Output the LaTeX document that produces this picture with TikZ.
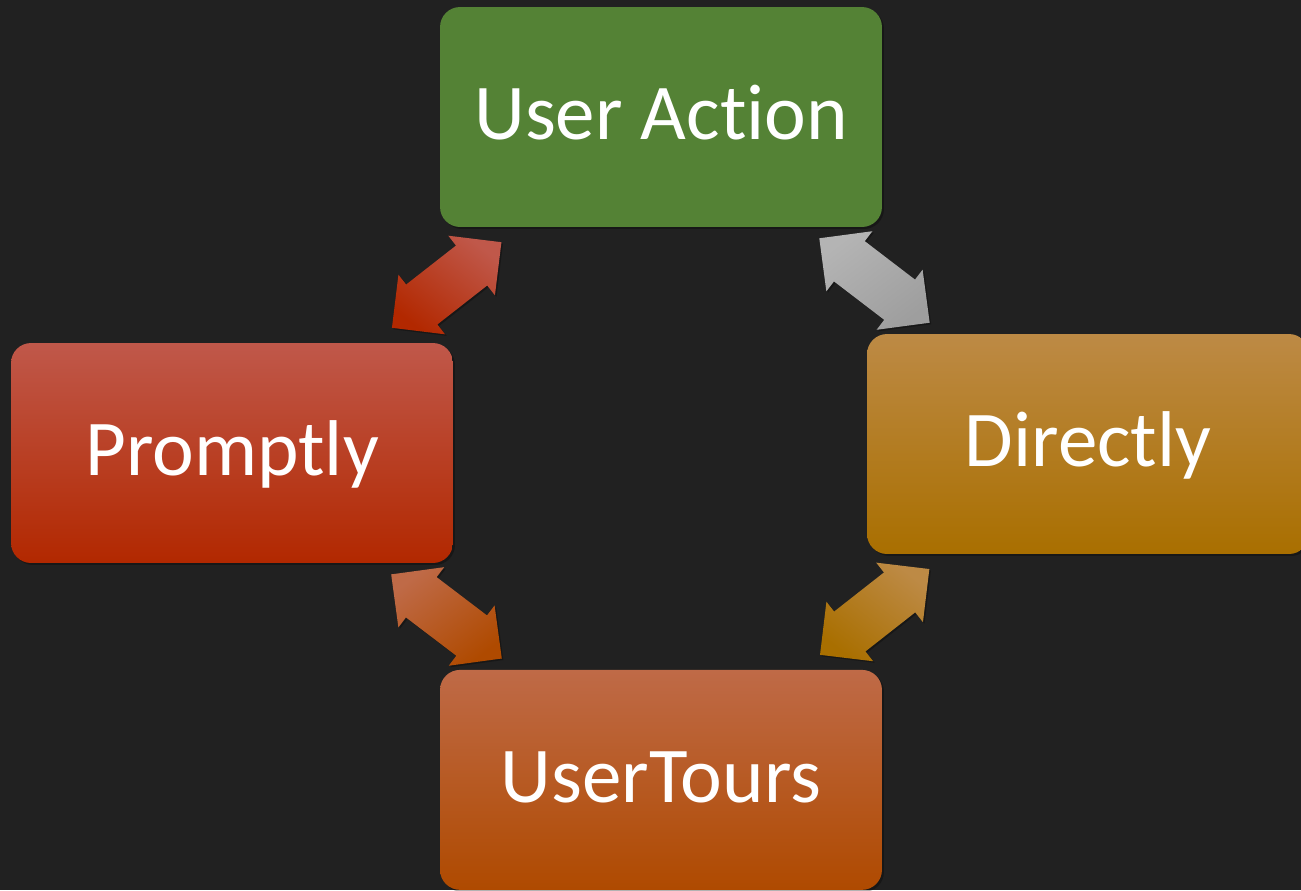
\documentclass[tikz,border=0pt]{standalone}
\usepackage{fontspec}
\setmainfont{Carlito}[Ligatures=NoCommon]
\usetikzlibrary{shapes.arrows, shadows}

\definecolor{bg}{HTML}{212121}
\definecolor{actiongreen}{HTML}{548235}
\definecolor{prtop}{HTML}{C0584A}
\definecolor{prmid}{HTML}{BA3508}
\definecolor{prbot}{HTML}{B22800}
\definecolor{ditop}{HTML}{BD8A45}
\definecolor{dimid}{HTML}{B37808}
\definecolor{dibot}{HTML}{A96F00}
\definecolor{uttop}{HTML}{BF6A47}
\definecolor{utmid}{HTML}{B75208}
\definecolor{utbot}{HTML}{AF4A00}
\definecolor{graytop}{HTML}{B4B4B4}
\definecolor{graybot}{HTML}{9E9E9E}

\begin{document}
\begin{tikzpicture}[x=0.02cm, y=-0.02cm, node distance=13.26cm,
    card/.style={rectangle, rounded corners=0.4cm, minimum width=8.84cm, minimum height=4.4cm,
      text=white, font=\fontsize{45}{54}\selectfont, text height=0.97cm, text depth=0.06cm,
      drop shadow={fill=black, opacity=0.3, shadow xshift=0.04cm, shadow yshift=-0.04cm}},
    link/.style={double arrow, double arrow tip angle=90, double arrow head extend=0.25cm,
      minimum width=1.5cm, minimum height=2.78cm, text height=0.5cm, text depth=0.5cm,
      inner sep=0pt, sloped,
      drop shadow={fill=black, opacity=0.3, shadow xshift=0.03cm, shadow yshift=-0.03cm}}]
  \useasboundingbox[fill=bg] (0,0) rectangle (1301,890);
  \node[card, fill=actiongreen](ua) at (661,117){User Action};
  \node[card, top color=uttop, middle color=utmid, bottom color=utbot](ut)[below of=ua]{UserTours};
  \node[card, top color=prtop, middle color=prmid, bottom color=prbot](pr) at (232,453){Promptly};
  \node[card, top color=ditop, middle color=dimid, bottom color=dibot](di) at (1088,444){Directly};
  \path (pr) -- node[link, top color=prtop, bottom color=prbot, shading angle=-38]{} (ua)
    (ua) -- node[link, top color=graytop, bottom color=graybot, shading angle=37.4]{} (di)
    (pr) -- node[link, top color=uttop, bottom color=utbot, shading angle=37.3]{} (ut)
    (ut) -- node[link, top color=ditop, bottom color=dibot, shading angle=-38.2]{} (di);
\end{tikzpicture}
\end{document}
